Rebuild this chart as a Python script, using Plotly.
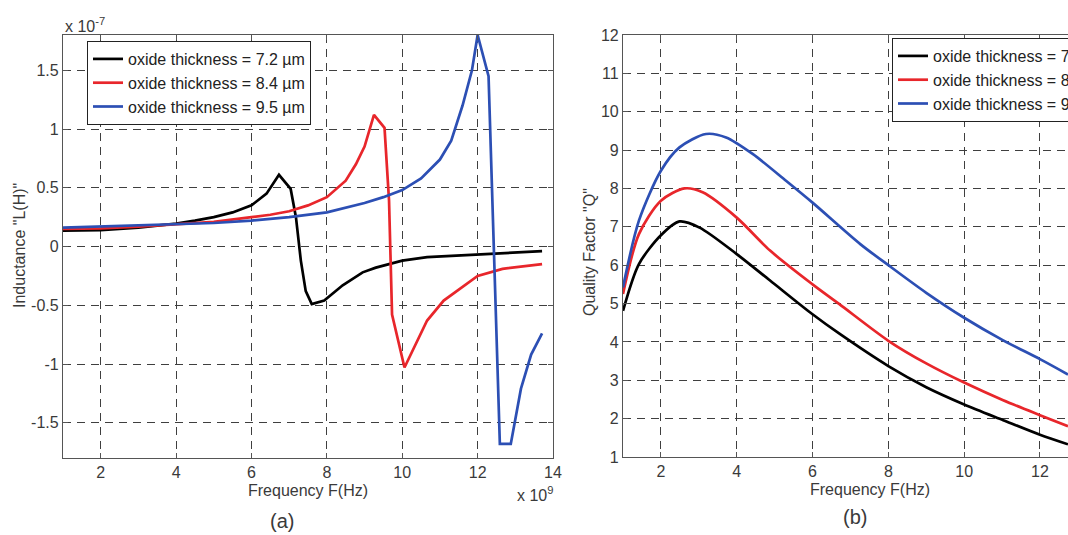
import plotly.graph_objects as go

# ---------------- data ----------------
# Panel (a): inductance (x 1e-7 H) vs frequency (x 1e9 Hz)
f_a_black = [1.0, 2.0, 3.0, 4.0, 4.5, 5.0, 5.5, 6.0, 6.4, 6.73, 7.04, 7.18, 7.31, 7.44, 7.6, 7.93,
             8.42, 8.95, 9.3, 10.0, 10.66, 11.6, 12.5, 13.71]
L_black = [0.135, 0.14, 0.16, 0.195, 0.22, 0.25, 0.29, 0.35, 0.45, 0.61, 0.49, 0.25, -0.12, -0.38,
           -0.49, -0.46, -0.33, -0.22, -0.18, -0.12, -0.09, -0.075, -0.06, -0.04]

f_a_red = [1.0, 2.0, 3.0, 4.0, 5.0, 6.0, 6.5, 7.0, 7.5, 8.0, 8.5, 8.77, 9.0, 9.25, 9.53, 9.65, 9.73,
           10.06, 10.4, 10.66, 11.1, 11.6, 12.0, 12.66, 13.2, 13.71]
L_red = [0.15, 0.155, 0.17, 0.19, 0.21, 0.25, 0.27, 0.3, 0.35, 0.42, 0.56, 0.7, 0.85, 1.12, 1.01, 0.39,
         -0.58, -1.03, -0.8, -0.63, -0.46, -0.34, -0.25, -0.19, -0.17, -0.15]

f_a_blue = [1.0, 2.0, 3.0, 4.0, 5.0, 6.0, 7.0, 8.0, 8.5, 9.0, 9.5, 10.0, 10.5, 11.0, 11.3, 11.6, 11.85,
            12.0, 12.29, 12.59, 12.88, 13.15, 13.42, 13.71]
L_blue = [0.16, 0.17, 0.18, 0.19, 0.2, 0.22, 0.25, 0.29, 0.33, 0.37, 0.42, 0.48, 0.58, 0.74, 0.9, 1.2,
          1.5, 1.8, 1.45, -1.68, -1.68, -1.21, -0.92, -0.74]

# Panel (b): quality factor vs frequency (GHz)
f_b_black = [1.0, 1.42, 2.0, 2.49, 3.02, 4.0, 4.88, 6.0, 6.7, 8.0, 9.0, 10.0, 11.03, 12.0, 12.74]
Q_black = [4.81, 6.03, 6.78, 7.14, 6.98, 6.29, 5.6, 4.72, 4.22, 3.37, 2.82, 2.37, 1.96, 1.58, 1.33]

f_b_red = [1.0, 1.42, 2.0, 2.62, 3.1, 4.0, 4.88, 6.0, 6.7, 8.0, 9.0, 10.0, 11.03, 12.0, 12.74]
Q_red = [5.25, 6.81, 7.68, 8.0, 7.9, 7.24, 6.38, 5.5, 4.99, 4.03, 3.44, 2.94, 2.48, 2.09, 1.8]

f_b_blue = [1.0, 1.42, 2.0, 2.49, 3.19, 3.72, 4.42, 5.3, 6.0, 7.26, 8.0, 9.0, 10.0, 11.03, 12.0, 12.74]
Q_blue = [5.42, 7.16, 8.46, 9.07, 9.42, 9.33, 8.9, 8.2, 7.63, 6.55, 6.0, 5.28, 4.63, 4.04, 3.55, 3.15]

series_names = ["oxide thickness = 7.2 µm", "oxide thickness = 8.4 µm", "oxide thickness = 9.5 µm"]
colors = ["#000000", "#e8262b", "#2c4fb4"]

xticks_a = [2, 4, 6, 8, 10, 12, 14]
yticks_a = [-1.5, -1, -0.5, 0, 0.5, 1, 1.5]
yticktext_a = ["-1.5", "-1", "-0.5", "0", "0.5", "1", "1.5"]
xticks_b = [2, 4, 6, 8, 10, 12, 14]
yticks_b = [1, 2, 3, 4, 5, 6, 7, 8, 9, 10, 11, 12]

# ---------------- figure ----------------
W, H = 1068, 535
fig = go.Figure()

for name, c, x, y in zip(series_names, colors, [f_a_black, f_a_red, f_a_blue], [L_black, L_red, L_blue]):
    fig.add_trace(go.Scatter(x=x, y=y, mode="lines", name=name, line=dict(color=c, width=2.7),
                             xaxis="x", yaxis="y", legend="legend"))
for name, c, x, y in zip(series_names, colors, [f_b_black, f_b_red, f_b_blue], [Q_black, Q_red, Q_blue]):
    fig.add_trace(go.Scatter(x=x, y=y, mode="lines", name=name,
                             line=dict(color=c, width=2.7, shape="spline", smoothing=0.8),
                             xaxis="x2", yaxis="y2", legend="legend2"))

font_fam = "Liberation Sans, Arial, sans-serif"
tick_font = dict(family=font_fam, size=16, color="#3a3a3a")
grid = dict(showgrid=True, gridcolor="#3f3f3f", gridwidth=1, griddash="8px,6px", zeroline=False,
            showline=True, linecolor="#555555", linewidth=1.2, ticks="inside", ticklen=5,
            tickcolor="#555555", tickfont=tick_font)

top = 1 - 35 / H
bot_a = 1 - 458 / H
bot_b = 1 - 457 / H

leg_font = dict(family=font_fam, size=16, color="#222222")
fig.update_layout(
    width=W, height=H,
    margin=dict(l=0, r=0, t=0, b=0, autoexpand=False),
    paper_bgcolor="white", plot_bgcolor="white",
    xaxis=dict(domain=[63 / W, 553 / W], range=[1, 14], tickvals=xticks_a, mirror="ticks",
               anchor="y", **grid),
    yaxis=dict(domain=[bot_a, top], range=[-1.8, 1.8], tickvals=yticks_a, ticktext=yticktext_a,
               mirror="ticks", anchor="x", **grid),
    xaxis2=dict(domain=[623 / W, 1.0], range=[1, 12.74], tickvals=xticks_b, mirror="ticks",
                anchor="y2", **grid),
    yaxis2=dict(domain=[bot_b, top], range=[1, 12], tickvals=yticks_b, mirror=False,
                anchor="x2", **grid),
    legend=dict(x=87 / W, y=1 - 41 / H, xanchor="left", yanchor="top", bgcolor="white",
                bordercolor="#222222", borderwidth=1, font=leg_font,
                itemwidth=30, tracegroupgap=0),
    legend2=dict(x=892 / W, y=1 - 38 / H, xanchor="left", yanchor="top", bgcolor="white",
                 bordercolor="#222222", borderwidth=1, font=leg_font,
                 itemwidth=30, tracegroupgap=0),
    showlegend=True,
)

ann_font = dict(family=font_fam, size=16, color="#3a3a3a")
annotations = [
    dict(text="x 10<sup>-7</sup>", x=63 / W, y=1 - 25 / H, xanchor="left", yanchor="middle"),
    dict(text="x 10<sup>9</sup>", x=555 / W, y=1 - 494 / H, xanchor="right", yanchor="middle"),
    dict(text="Frequency F(Hz)", x=308 / W, y=1 - 490 / H, xanchor="center", yanchor="middle"),
    dict(text="Frequency F(Hz)", x=870 / W, y=1 - 489 / H, xanchor="center", yanchor="middle"),
    dict(text='Inductance "L(H)"', x=20 / W, y=1 - 246 / H, xanchor="center", yanchor="middle",
         textangle=-90),
    dict(text='Quality Factor "Q"', x=589 / W, y=1 - 252 / H, xanchor="center", yanchor="middle",
         textangle=-90),
    dict(text="(a)", x=282 / W, y=1 - 521 / H, xanchor="center", yanchor="middle",
         font=dict(family=font_fam, size=20, color="#3a3a3a")),
    dict(text="(b)", x=855 / W, y=1 - 517 / H, xanchor="center", yanchor="middle",
         font=dict(family=font_fam, size=20, color="#3a3a3a")),
]
for a in annotations:
    a.setdefault("font", ann_font)
    fig.add_annotation(xref="paper", yref="paper", showarrow=False, **a)

fig.write_html("out.html")
